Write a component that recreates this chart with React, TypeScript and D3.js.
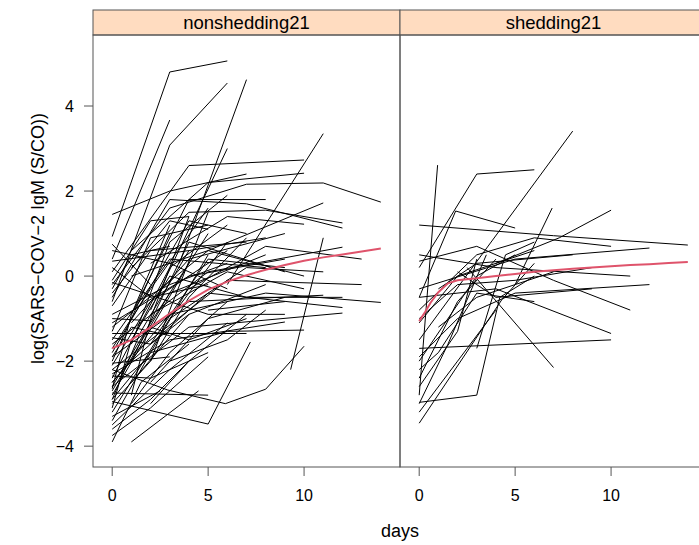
import React from "react";
import * as d3 from "d3";

// panel titles
const panels = ["nonshedding21", "shedding21"];

// subject trajectories, [day, log IgM]
const nonshedding: [number, number][][] = [
  [[0, 0.93], [3, 4.8], [6, 5.06]],
  [[0, -0.6], [3, 3.08], [6, 4.54]],
  [[3.5, 0.3], [5, 2.14], [7, 4.62]],
  [[0, 0.4], [3, 3.67]],
  [[0, 1.45], [3, 2.0], [7, 2.4]],
  [[2, -0.8], [6, 3.0]],
  [[0, 0.1], [4, 2.6], [10, 2.73]],
  [[1, 0.6], [5, 2.2], [10, 2.42]],
  [[0, -0.2], [3, 1.6], [7, 2.16], [11, 2.19], [14, 1.74]],
  [[6, -0.2], [11, 3.35]],
  [[0, -1.2], [5, 0.6], [11, 1.72]],
  [[1, 0.2], [4, 1.5], [8, 1.55], [12, 1.25]],
  [[0, -0.5], [3, 1.8], [7, 1.7], [12, 1.13]],
  [[2, 0.3], [6, 1.4], [10, 1.22]],
  [[1, -1.1], [4, 0.4], [9, 1.0]],
  [[9.3, -2.2], [11, 0.9]],
  [[0, -1.6], [5, 0.1], [12, 0.68]],
  [[0, -2.2], [6, -0.1], [13, -0.2]],
  [[0, -1.9], [4, -0.6], [11, -0.45]],
  [[0, -2.5], [3, -0.9], [8, -0.4], [14, -0.62]],
  [[1, -2.0], [5, -0.4], [12, -0.74]],
  [[0, -2.6], [4, -1.2], [12, -0.87]],
  [[0, -2.3], [3, -1.5], [9, -1.08]],
  [[0, -2.9], [2, -1.8], [6, -1.3], [10, -1.27]],
  [[0, -2.2], [2.9, -2.68], [5.9, -3.0], [8, -2.66], [10, -1.65]],
  [[0, -2.95], [5, -3.48], [7.2, -1.55]],
  [[0, -3.9], [1.5, -2.5], [4, -1.6]],
  [[1, -3.9], [4.5, -2.7]],
  [[0, -2.75], [5, -2.8]],
  [[0, -1.35], [7, -1.35]],
  [[0, -3.4], [2, -1.8], [5, 0.5]],
  [[0, -3.2], [3, -1.0], [6, 0.8]],
  [[0, -3.0], [2, -2.0], [4, -0.5], [7, 0.9]],
  [[0, -2.8], [4, 0.3]],
  [[0, -2.7], [3, -0.4], [8, 0.5]],
  [[0, -2.6], [2, -1.1], [5, 1.0]],
  [[0, -2.5], [1, -2.0], [4, 0.8]],
  [[0, -2.4], [3, 0.2], [6, 1.2]],
  [[0, -2.1], [2, -0.6], [6, 0.6]],
  [[0, -2.0], [3, 1.0]],
  [[0, -1.8], [4, 1.3], [7, 1.0]],
  [[0, -1.7], [2, -0.3], [5, 1.6]],
  [[0, -1.5], [3, 0.4], [8, 0.2]],
  [[0, -1.3], [2, 0.9], [5, 1.2]],
  [[0, -1.1], [4, 0.0], [9, 0.4]],
  [[0, -0.9], [3, -0.2], [6, 0.3]],
  [[0, -0.7], [2, 0.6], [7, 0.8]],
  [[0, -0.4], [3, 1.3], [5, 1.1]],
  [[0, 0.2], [2, -0.5], [5, -0.2]],
  [[0, 0.35], [4, 0.6], [8, 0.9]],
  [[0, 0.6], [3, 0.3], [6, -0.3]],
  [[0, -0.1], [2, 1.3], [4, 1.4]],
  [[0, -3.5], [3, -2.2], [6, -1.1]],
  [[0, -3.6], [2, -2.9], [4, -2.0]],
  [[0, -3.1], [1, -1.5], [3, 0.0]],
  [[0, -2.9], [1.5, -1.3], [4, 0.6]],
  [[1, -3.0], [3, -1.8], [6, -0.6]],
  [[1, -2.5], [4, -0.9], [8, -0.2]],
  [[1, -1.6], [3, 0.8], [6, 1.9]],
  [[1, -0.9], [4, 1.8], [8, 1.8]],
  [[2, -2.5], [5, -1.0], [9, -0.5]],
  [[2, -1.6], [5, 0.4], [9, 0.2]],
  [[2, -0.9], [6, 0.1], [10, -0.3]],
  [[2, -3.0], [4, -2.0], [7, -0.9]],
  [[0, -2.35], [2, -2.4], [5, -1.8]],
  [[0, -1.9], [1, -1.2], [3, -1.4]],
  [[0, -0.3], [1, 0.5], [3, 0.7]],
  [[3, -1.0], [7, 0.2], [11, 0.1]],
  [[3, 0.0], [7, -0.5], [12, -0.5]],
  [[4, -0.3], [8, 0.7], [13, 0.4]],
  [[4, 0.8], [9, 0.1]],
  [[5, -0.8], [9, -0.6]],
  [[0, -3.3], [2.5, -2.7]],
  [[0, -2.05], [3, -1.9]],
  [[0, -1.45], [2, -1.6], [4, -0.9]],
  [[0, -1.0], [2, -1.05]],
  [[0, 0.75], [2, -0.2]],
  [[1, -2.8], [2, -1.0], [4, 1.4]],
  [[0, -2.65], [1, -0.9], [3, 1.2]],
  [[2, -2.0], [3, -0.8], [5, 1.5]],
  [[3, -2.0], [6, -1.5], [8, -0.8]],
  [[0, -0.15], [5, -0.9], [9, -0.9]],
  [[1, 0.0], [5, 0.6], [10, 0.0]],
  [[0, -3.75], [2, -3.1], [5, -1.9]],
  [[2, -1.2], [4, -1.5], [7, -1.0]],
];

const shedding: [number, number][][] = [
  [[0, -2.8], [0.96, 2.61]],
  [[0, 0.2], [3, 2.4], [6, 2.5]],
  [[0, -0.5], [1.9, 1.53], [5, 1.13]],
  [[0, -1.5], [8, 3.41]],
  [[0, 1.2], [7, 0.95], [14, 0.73]],
  [[0, -1.7], [10, -1.5]],
  [[0, -2.97], [3, -2.8], [4.2, -0.5], [6, 0.0]],
  [[0, -3.46], [4.3, -0.56], [6, 0.3]],
  [[2.5, 0.2], [7, -2.15]],
  [[4, 0.3], [7.3, 0.9], [10, 1.55]],
  [[5, -0.2], [6.93, 1.6]],
  [[0, -0.3], [5, 0.4], [12, 0.66]],
  [[0, -0.5], [4, -0.3], [10, -1.35]],
  [[0, 0.35], [3, 0.7], [7, -0.1], [11, -0.8]],
  [[0, -1.1], [2, 0.0], [6, 0.6]],
  [[0, -2.4], [2, -0.6], [4, 0.4]],
  [[0, -2.0], [3, 0.0], [5, 0.5]],
  [[0, -1.0], [2, -0.2], [5, -0.1], [9, 0.2]],
  [[0, -2.6], [2, -1.3], [3, 0.4]],
  [[0, -3.0], [1.5, -1.6], [3.5, 0.5]],
  [[0, -2.2], [1, -1.8], [3, -0.4], [6, -0.6]],
  [[1, -0.3], [3, 0.3], [8, 0.5]],
  [[2, 0.1], [4, -0.5], [9, -0.3]],
  [[0, 0.5], [4, 0.2], [11, 0.0]],
  [[0, -0.8], [3, 0.5], [6, 0.9], [10, 0.7]],
  [[1, -1.2], [3, -0.5], [7, 0.1]],
  [[0, -1.9], [2, -1.0], [5, -0.4], [12, -0.2]],
  [[3, -1.7], [4.5, 0.5], [6, 0.8]],
  [[0, -3.2], [2, -2.0], [4, -0.8]],
];

// loess smooths
const nonsheddingSmooth: [number, number][] = [
  [0, -1.7], [1, -1.5], [2, -1.2], [3, -0.88], [4, -0.58], [5, -0.32], [6, -0.13],
  [7, 0.02], [8, 0.15], [9, 0.26], [10, 0.36], [11, 0.44], [12, 0.51], [13, 0.58], [14, 0.65],
];
const sheddingSmooth: [number, number][] = [
  [0, -1.06], [0.3, -0.85], [0.6, -0.62], [1, -0.38], [1.5, -0.17], [2, -0.1], [3, -0.05],
  [4, 0.0], [5, 0.05], [6, 0.1], [7, 0.14], [8, 0.17], [9, 0.2], [10, 0.23], [11, 0.26],
  [12, 0.28], [13, 0.31], [14, 0.33],
];

const xTicks = [0, 5, 10];
const yTicks = [-4, -2, 0, 2, 4];

const W = 699;
const H = 545;
const top = 35;
const bottom = 467;
const left = 93;
const panelW = 307;
const stripH = 25;
const font = "'Liberation Sans', Arial, sans-serif";

export default function App() {
  const y = d3.scaleLinear().domain([-4.49, 5.67]).range([bottom, top]);
  const x = d3.scaleLinear().domain([-1, 15]).range([0, panelW]);
  const line = d3
    .line<[number, number]>()
    .x((d) => x(d[0]))
    .y((d) => y(d[1]));
  const groups = [nonshedding, shedding];
  const smooths = [nonsheddingSmooth, sheddingSmooth];

  return (
    <div style={{ position: "absolute", left: 0, top: 0 }}>
      <svg width={W} height={H} style={{ display: "block", background: "#fff" }}>
        <defs>
          {panels.map((p, i) => (
            <clipPath id={"clip" + i} key={p}>
              <rect x={0} y={top} width={panelW} height={bottom - top} />
            </clipPath>
          ))}
        </defs>
        {panels.map((p, i) => (
          <g key={p} transform={`translate(${left + i * panelW},0)`}>
            <rect x={0} y={top - stripH} width={panelW} height={stripH} fill="#ffdcc0" stroke="#555" />
            <text x={panelW / 2} y={top - 6} textAnchor="middle" fontFamily={font} fontSize={18.5} fill="#000">
              {p}
            </text>
            <g clipPath={`url(#clip${i})`}>
              {groups[i].map((s, j) => (
                <path key={j} d={line(s) ?? ""} fill="none" stroke="#000" strokeWidth={1} />
              ))}
              <path d={line(smooths[i]) ?? ""} fill="none" stroke="#DF536B" strokeWidth={2} />
            </g>
            <rect x={0} y={top} width={panelW} height={bottom - top} fill="none" stroke="#555" />
            {xTicks.map((t) => (
              <g key={t} transform={`translate(${x(t)},${bottom})`}>
                <line y1={0} y2={9} stroke="#555" />
                <text y={34} textAnchor="middle" fontFamily={font} fontSize={16} fill="#000">
                  {t}
                </text>
              </g>
            ))}
          </g>
        ))}
        {yTicks.map((t) => (
          <g key={t} transform={`translate(${left},${y(t)})`}>
            <line x1={0} x2={-9} stroke="#555" />
            <text x={-19} dy="0.35em" textAnchor="end" fontFamily={font} fontSize={16} fill="#000">
              {t === 0 ? "0" : d3.format("")(t).replace("-", "\u2212")}
            </text>
          </g>
        ))}
        <text
          transform={`translate(44,${(top - stripH + bottom) / 2}) rotate(-90)`}
          textAnchor="middle"
          fontFamily={font}
          fontSize={18}
          fill="#000"
        >
          log(SARS&#8722;COV&#8722;2 IgM (S/CO))
        </text>
        <text x={left + panelW} y={537} textAnchor="middle" fontFamily={font} fontSize={18} fill="#000">
          days
        </text>
      </svg>
    </div>
  );
}
